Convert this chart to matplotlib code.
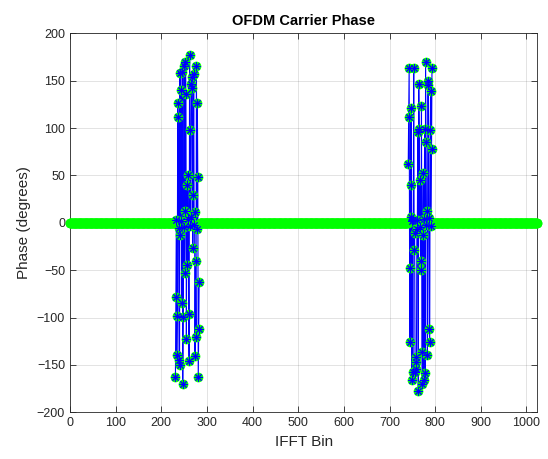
import numpy as np
import matplotlib.pyplot as plt

plt.rcParams['font.family'] = ['Liberation Sans', 'DejaVu Sans']

n_bins = 1024

# phase (degrees) of the occupied carriers
bins_low = [231, 232, 233, 234, 235, 236, 237, 238, 239, 240, 241, 242, 243, 244,
            245, 246, 247, 248, 249, 250, 251, 252, 253, 254, 255, 256, 257, 258,
            259, 260, 261, 262, 263, 264, 265, 266, 267, 268, 269, 270, 271, 272,
            273, 274, 275, 276, 277, 278, 279, 280, 281, 282, 283]
phase_low = [-163, -78, 3, -139, -98, 126, 112, -5, -145, -150, 158, -13, 2, 140,
             -85, 159, -170, -99, -4, 166, -53, 13, 170, 136, -123, 40, -45, 50,
             4, -96, -146, 177, 98, -3, 6, 147, 142, 154, -27, 29, 157, -2,
             11, -141, -40, -121, 166, -6, 126, 48, -163, -112, -62]

bins_high = [741, 742, 743, 744, 745, 746, 747, 748, 749, 750, 751, 752, 753, 754,
             755, 756, 757, 758, 759, 760, 761, 762, 763, 764, 765, 766, 767, 768,
             769, 770, 771, 772, 773, 774, 775, 776, 777, 778, 779, 780, 781, 782,
             783, 784, 785, 786, 787, 788, 789, 790, 791, 792, 793]
phase_high = [62, 112, 163, -48, -126, 6, 121, 40, -166, 2, -157, 3, 163, -29,
              -11, -157, -154, -142, -147, -6, 3, 96, -177, 146, 99, -4, 45, -50,
              -40, 123, -136, -170, -13, 53, -166, 4, 99, -159, 170, 85, -2, 13,
              -140, 150, 145, 5, -112, -126, 98, 139, -3, 78, 163]

x = np.arange(n_bins)
phase = np.zeros(n_bins)
phase[bins_low] = phase_low
phase[bins_high] = phase_high

used = np.full(n_bins, np.nan)
used[bins_low] = phase_low
used[bins_high] = phase_high

fig = plt.figure(figsize=(5.48, 4.59), dpi=100)
ax = fig.add_axes([0.1277, 0.1017, 0.853, 0.8257])

ax.plot(x, used, '-', color=(0, 0, 1), lw=0.8, zorder=2)
ax.plot(x, phase, 'o', color=(0, 1, 0), mfc=(0, 1, 0), ms=6.5, mew=0.5,
        zorder=3, clip_on=False)
ax.plot(x, used, linestyle='none', marker=(8, 2, 0), color=(0, 0, 1),
        ms=6, mew=0.7, zorder=4)

ax.set_xlim(0, 1024)
ax.set_ylim(-200, 200)
ax.set_xticks(np.arange(0, 1001, 100))
ax.set_yticks(np.arange(-200, 201, 50))
ax.grid(True, color=(0.15, 0.15, 0.15), alpha=0.15, lw=0.6)
ax.set_axisbelow(True)

dark = (0.15, 0.15, 0.15)
for s in ax.spines.values():
    s.set_color(dark)
    s.set_linewidth(0.6)
ax.tick_params(direction='in', top=True, right=True, length=4, width=0.6,
               colors=dark, labelsize=9, labelcolor=dark)

ax.set_title('OFDM Carrier Phase', fontsize=10.5, fontweight='bold', pad=6)
ax.set_xlabel('IFFT Bin', fontsize=11, color=dark)
ax.set_ylabel('Phase (degrees)', fontsize=11, color=dark)

fig.savefig('out.png', dpi=100)
